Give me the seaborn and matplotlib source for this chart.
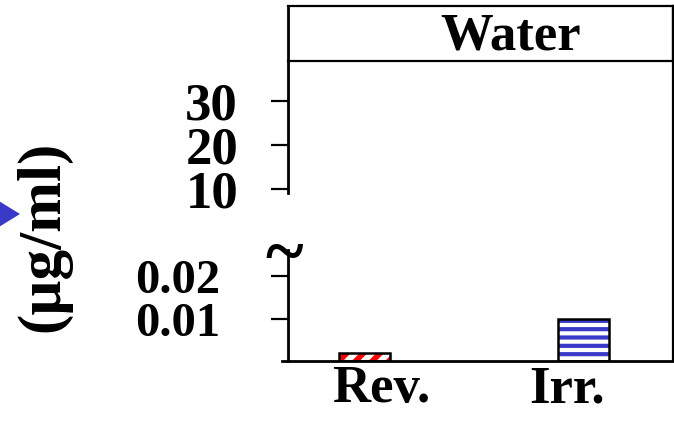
import matplotlib
matplotlib.use("Agg")
import matplotlib.pyplot as plt
from matplotlib.patches import Polygon, Rectangle
import seaborn as sns
import pandas as pd

# ---- data ----
categories = ["Rev.", "Irr."]
values = [0.002, 0.01]          # µg/ml
panel_title = "Water"
y_label = "(µg/ml)"
low_ticks = [0.01, 0.02]
low_tick_labels = ["0.01", "0.02"]
high_ticks = [10, 20, 30]
high_tick_labels = ["10", "20", "30"]
bar_hatch_colors = ["#ff0000", "#3a3ac8"]
bar_hatches = ["//", "--"]
bar_hatch_widths = [4.0, 3.0]

df = pd.DataFrame({"cond": categories, "value": values})

sns.set_theme(style="white")
plt.rcParams["font.family"] = ["Liberation Serif", "DejaVu Serif"]
plt.rcParams["font.weight"] = "bold"
plt.rcParams["text.color"] = "black"
plt.rcParams["xtick.color"] = "black"
plt.rcParams["ytick.color"] = "black"
plt.rcParams["axes.labelcolor"] = "black"
plt.rcParams["hatch.linewidth"] = 3.2

W, H = 674, 423
fig = plt.figure(figsize=(W / 100, H / 100), dpi=100)
fig.patch.set_facecolor("white")


def px_axes(left, top, right, bottom):
    return fig.add_axes([left / W, 1 - bottom / H, (right - left) / W, (bottom - top) / H])


L, R = 288, 673
ax_bot = px_axes(L, 250, R, 361)
ax_top = px_axes(L, 61, R, 193)
ax_strip = px_axes(L, 6, R, 61)
ax_frame = px_axes(L, 6, R, 361)
ax_frame.set_zorder(-1)

FS = 38
FS_LOW = 35
lw_spine = 2.0

# ---- bars (lower axis) ----
sns.barplot(data=df, x="cond", y="value", hue="cond", order=categories,
            hue_order=categories, dodge=True, width=0.355, legend=False,
            ax=ax_bot, saturation=1, err_kws={"linewidth": 0})

bar_w = 0.269
for container, hc, hatch, hw in zip(ax_bot.containers, bar_hatch_colors,
                                    bar_hatches, bar_hatch_widths):
    for p in container:
        cx = p.get_x() + p.get_width() / 2
        p.set_width(bar_w)
        p.set_x(cx - bar_w / 2)
        p.set_facecolor("white")
        p.set_edgecolor(hc)
        p.set_hatch(hatch)
        if hasattr(p, "set_hatch_linewidth"):
            p.set_hatch_linewidth(hw)
        p.set_linewidth(0)
        ax_bot.add_patch(Rectangle((p.get_x(), p.get_y()), p.get_width(), p.get_height(),
                                   fill=False, edgecolor="black", linewidth=1.8, zorder=3))

xlim = (-0.5, 1.57)
for ax in (ax_bot, ax_top, ax_strip, ax_frame):
    ax.set_xlim(*xlim)
    ax.set_facecolor("none")

ax_bot.set_ylim(0, 0.0262)
ax_top.set_ylim(9.09, 39.1)

# lower axis styling
ax_bot.set_yticks(low_ticks)
ax_bot.set_yticklabels(low_tick_labels, fontsize=FS_LOW, fontweight="bold")
ax_bot.tick_params(axis="y", left=True, direction="out", length=12, width=1.6,
                   pad=37, color="black", labelcolor="black")
ax_bot.tick_params(axis="x", length=0, pad=3, labelcolor="black")
ax_bot.set_xticks(range(len(categories)))
ax_bot.set_xticklabels(categories, fontsize=FS, fontweight="bold")
ax_bot.set_xlabel("")
ax_bot.set_ylabel("")
for s in ("top", "right"):
    ax_bot.spines[s].set_visible(False)
ax_bot.spines["left"].set_linewidth(lw_spine)
ax_bot.spines["bottom"].set_linewidth(lw_spine)
ax_bot.spines["bottom"].set_bounds(-0.53, 1.57)
for s in ax_bot.spines.values():
    s.set_color("black")

# upper axis styling
ax_top.set_yticks(high_ticks)
ax_top.set_yticklabels(high_tick_labels, fontsize=FS, fontweight="bold")
ax_top.tick_params(axis="y", left=True, direction="out", length=12, width=1.6,
                   pad=24, color="black", labelcolor="black")
ax_top.set_xticks([])
for s in ("top", "right", "bottom"):
    ax_top.spines[s].set_visible(False)
ax_top.spines["left"].set_linewidth(lw_spine)
ax_top.spines["left"].set_color("black")

# strip
ax_strip.set_xticks([])
ax_strip.set_yticks([])
for s in ax_strip.spines.values():
    s.set_color("black")
    s.set_linewidth(1.6)
ax_strip.spines["left"].set_linewidth(lw_spine)
ax_strip.text(0.577, 0.45, panel_title, transform=ax_strip.transAxes, ha="center",
              va="center", fontsize=FS, fontweight="bold", color="black")

# frame (continuous right border)
ax_frame.set_xticks([])
ax_frame.set_yticks([])
for s in ("top", "left", "bottom"):
    ax_frame.spines[s].set_visible(False)
ax_frame.spines["right"].set_color("black")
ax_frame.spines["right"].set_linewidth(1.6)

# axis break mark
fig.text(284 / W, 1 - 250 / H, "~", ha="center", va="center_baseline",
         fontsize=52, fontweight="bold", color="black")

# y label
fig.text(43 / W, 1 - 236 / H, y_label, rotation=90, ha="center", va="center",
         fontsize=44, fontweight="bold", color="black")

# partial marker at left edge
tri = Polygon([(-6 / W, 1 - 198 / H), (20 / W, 1 - 214 / H), (-6 / W, 1 - 230 / H)],
              closed=True, facecolor="#3a3ac8", edgecolor="none",
              transform=fig.transFigure)
fig.add_artist(tri)

fig.savefig("out.png", dpi=100)
